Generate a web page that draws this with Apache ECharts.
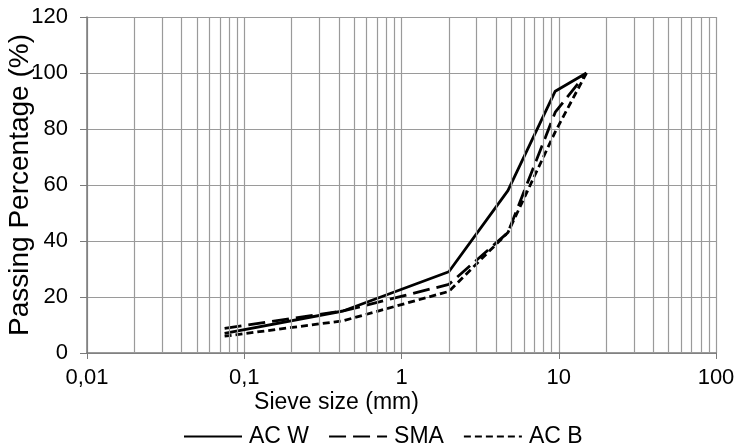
<!DOCTYPE html>
<html>
<head>
<meta charset="utf-8">
<title>Sieve curves</title>
<script src="https://cdn.jsdelivr.net/npm/echarts@6/dist/echarts.min.js"></script>
<style>
    html, body { margin: 0; padding: 0; background: #fff; }
    #chart { width: 736px; height: 444px; }
</style>
</head>
<body>
<div id="chart"></div>
<script>
'use strict';
// sieve sizes (mm) and passing percentages
var sieveSizes = [0.075, 0.425, 2, 4.75, 9.5, 15];
var acW = [7, 15, 29, 58, 93.5, 100];
var sma = [8.8, 15, 24.5, 43, 86, 100];
var acB = [6, 11.5, 22, 43, 79, 100];
var seriesNames = ['AC W', 'SMA', 'AC B'];

// log grid: minor lines at 2..9 of every decade
var decades = [0.01, 0.1, 1, 10];
var minorSteps = [2, 3, 4, 5, 6, 7, 8, 9];

var gridColor = '#9a9a9a';
var axisColor = '#7a7a7a';
var fontName = 'Liberation Sans';

function pairs(xs, ys) {
    var out = [];
    for (var i = 0; i < xs.length; i++) {
        out.push([xs[i], ys[i]]);
    }
    return out;
}

var minorLines = [];
for (var d = 0; d < decades.length; d++) {
    for (var m = 0; m < minorSteps.length; m++) {
        minorLines.push({ xAxis: +(decades[d] * minorSteps[m]).toPrecision(3) });
    }
}

var myChart = echarts.init(document.getElementById('chart'));
var option = {
    animation: false,
    textStyle: { fontFamily: fontName },
    grid: {
        left: 87,
        right: 20,
        top: 17,
        bottom: 91,
        containLabel: false,
        outerBoundsMode: 'none'
    },
    legend: {
        data: seriesNames,
        left: 178,
        top: 420,
        itemWidth: 58,
        itemHeight: 14,
        itemGap: 19,
        itemStyle: { opacity: 0 },
        textStyle: { fontSize: 23, color: '#000', fontFamily: fontName, padding: [0, 0, 0, 2] }
    },
    xAxis: {
        type: 'log',
        logBase: 10,
        min: 0.01,
        max: 100,
        name: 'Sieve size (mm)',
        nameLocation: 'middle',
        nameGap: 38,
        nameMoveOverlap: false,
        nameTextStyle: { fontSize: 23, color: '#000', padding: [0, 130, 0, 0] },
        axisLine: { lineStyle: { color: axisColor, width: 1.5 } },
        axisTick: { show: true, length: 6, lineStyle: { color: axisColor } },
        axisLabel: {
            fontSize: 22,
            color: '#000',
            margin: 14,
            formatter: function (v) {
                return String(+v.toPrecision(3)).replace('.', ',');
            }
        },
        splitLine: { show: true, lineStyle: { color: gridColor, width: 1.2 } }
    },
    yAxis: {
        type: 'value',
        min: 0,
        max: 120,
        interval: 20,
        name: 'Passing Percentage (%)',
        nameLocation: 'middle',
        nameRotate: 90,
        nameGap: 53,
        nameMoveOverlap: false,
        nameTruncate: { maxWidth: 600 },
        nameTextStyle: { fontSize: 28, color: '#000' },
        axisLine: { show: true, lineStyle: { color: axisColor, width: 1.5 } },
        axisTick: { show: true, length: 7, lineStyle: { color: axisColor } },
        axisLabel: { fontSize: 22, color: '#000', margin: 19 },
        splitLine: { show: true, lineStyle: { color: gridColor, width: 1.2 } }
    },
    series: [
        {
            name: 'minor',
            type: 'line',
            data: [],
            silent: true,
            z: 1,
            markLine: {
                silent: true,
                symbol: ['none', 'none'],
                label: { show: false },
                lineStyle: { color: gridColor, width: 1.2, type: 'solid' },
                emphasis: { disabled: true },
                data: minorLines
            }
        },
        {
            name: seriesNames[0],
            type: 'line',
            data: pairs(sieveSizes, acW),
            showSymbol: false,
            symbol: 'none',
            z: 3,
            lineStyle: { color: '#000', width: 2.8, type: 'solid' },
            itemStyle: { color: '#000' }
        },
        {
            name: seriesNames[1],
            type: 'line',
            data: pairs(sieveSizes, sma),
            showSymbol: false,
            symbol: 'none',
            z: 3,
            lineStyle: { color: '#000', width: 2.8, type: [17, 7] },
            itemStyle: { color: '#000' }
        },
        {
            name: seriesNames[2],
            type: 'line',
            data: pairs(sieveSizes, acB),
            showSymbol: false,
            symbol: 'none',
            z: 3,
            lineStyle: { color: '#000', width: 2.8, type: [7, 4] },
            itemStyle: { color: '#000' }
        }
    ]
};
myChart.setOption(option);
</script>
</body>
</html>
